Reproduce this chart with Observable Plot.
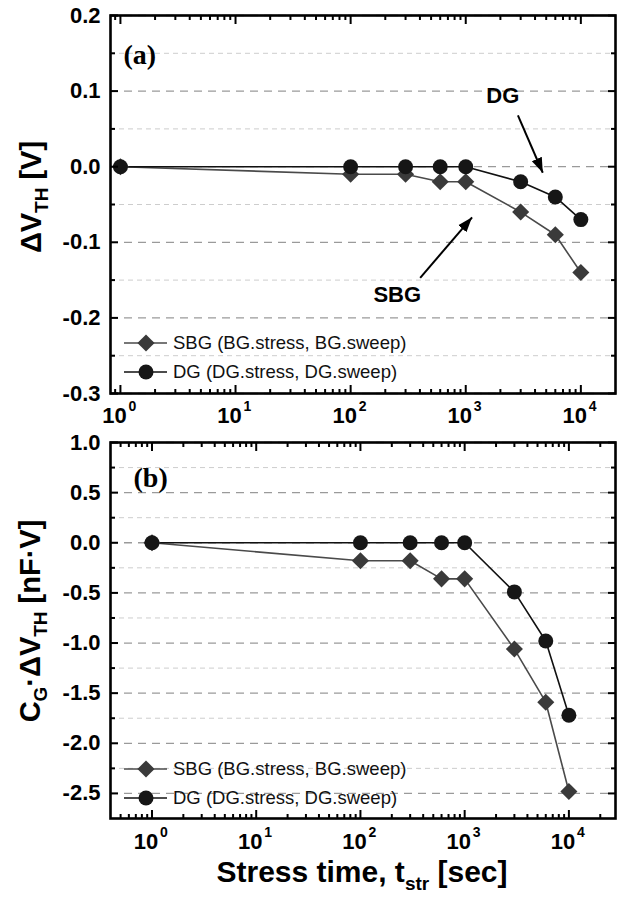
<!DOCTYPE html>
<html>
<head>
<meta charset="utf-8">
<script src="https://cdn.jsdelivr.net/npm/d3@7"></script>
<script src="https://cdn.jsdelivr.net/npm/@observablehq/plot@0.6"></script>
<style>
  html, body { margin: 0; padding: 0; background: #fff; }
  #chart { width: 631px; height: 902px; }
  #chart svg { display: block; }
</style>
</head>
<body>
<div id="chart"></div>
<script>
// ---------------- data ----------------
const times = [1, 100, 300, 600, 1000, 3000, 6000, 10000];
const dvthSBG = [0, -0.01, -0.01, -0.02, -0.02, -0.06, -0.09, -0.14];
const dvthDG  = [0, 0, 0, 0, 0, -0.02, -0.04, -0.07];
const cgSBG   = [0, -0.18, -0.18, -0.36, -0.36, -1.06, -1.59, -2.48];
const cgDG    = [0, 0, 0, 0, 0, -0.49, -0.98, -1.72];
const seriesNames = ["SBG (BG.stress, BG.sweep)", "DG (DG.stress, DG.sweep)"];
const xMajorTicks = [1, 10, 100, 1000, 10000];
const yTicksA = [0.2, 0.1, 0, -0.1, -0.2, -0.3];
const yMinorA = [0.15, 0.05, -0.05, -0.15, -0.25];
const yTicksB = [1.0, 0.5, 0, -0.5, -1.0, -1.5, -2.0, -2.5];
const yMinorB = [0.75, 0.25, -0.25, -0.75, -1.25, -1.75, -2.25];
const panelLabels = ["(a)", "(b)"];
const annoTextA = [{label: "DG", x: 2100, y: 0.094}, {label: "SBG", x: 254, y: -0.170}];
const annoArrowA = [{x1: 2840, y1: 0.068, x2: 4670, y2: -0.008}, {x1: 402, y1: -0.147, x2: 1135, y2: -0.067}];

// ---------------- helpers ----------------
const W = 631;
const FONT = "'Liberation Sans', Arial, Helvetica, sans-serif";
const SBG_LINE = "#4a4a4a", SBG_FILL = "#3a3a3a", DG_LINE = "#111", DG_FILL = "#161616";

function minorLogTicks(domain) {
  const out = [];
  for (let e = -1; e <= 5; e++) for (let m = 2; m <= 9; m++) {
    const v = m * Math.pow(10, e);
    if (v > domain[0] && v < domain[1]) out.push(v);
  }
  return out;
}
const rowsOf = vals => times.map((t, i) => ({t, v: vals[i]}));

function makePanel(cfg) {
  const sbg = rowsOf(cfg.sbg), dg = rowsOf(cfg.dg);
  const xMinor = minorLogTicks(cfg.xDomain);
  const tk = {fill: "none", stroke: "#000", strokeWidth: 2, label: null};
  const marks = [
    Plot.ruleY(cfg.yMinor, {stroke: "#cdcdcd", strokeWidth: 1, strokeDasharray: "5,4"}),
    Plot.ruleY(cfg.yMajor, {stroke: "#9a9a9a", strokeWidth: 1.3, strokeDasharray: "8,6"}),
    Plot.line(sbg, {x: "t", y: "v", stroke: SBG_LINE, strokeWidth: 1.6}),
    Plot.line(dg, {x: "t", y: "v", stroke: DG_LINE, strokeWidth: 1.6}),
    Plot.dot(sbg, {x: "t", y: "v", symbol: "diamond2", r: 7.7, fill: SBG_FILL, stroke: "none"}),
    Plot.dot(dg, {x: "t", y: "v", symbol: "circle", r: 7.5, fill: DG_FILL, stroke: "none"}),
    Plot.axisY(cfg.yMajor, {anchor: "left", tickSize: -8, ...tk}),
    Plot.axisY(cfg.yMajor, {anchor: "right", tickSize: -8, ...tk}),
    Plot.axisY(cfg.yMinor, {anchor: "left", tickSize: -5, ...tk}),
    Plot.axisY(cfg.yMinor, {anchor: "right", tickSize: -5, ...tk}),
    Plot.axisX(xMajorTicks, {anchor: "bottom", tickSize: -8, ...tk}),
    Plot.axisX(xMajorTicks, {anchor: "top", tickSize: -8, ...tk}),
    Plot.axisX(xMinor, {anchor: "bottom", tickSize: -4, ...tk}),
    Plot.axisX(xMinor, {anchor: "top", tickSize: -4, ...tk}),
    Plot.axisY(cfg.yMajor, {anchor: "left", tickSize: 0, tickPadding: 10, tickFormat: d => d.toFixed(1),
      fontSize: 22, fontWeight: "bold", fill: "#000", label: null}),
    Plot.text(xMajorTicks, {x: d => d, frameAnchor: "bottom", lineAnchor: "middle", text: () => "10",
      dy: cfg.xLabelDy, dx: -6, fontSize: 22, fontWeight: "bold", fill: "#000"}),
    Plot.text(xMajorTicks, {x: d => d, frameAnchor: "bottom", lineAnchor: "middle", text: d => String(Math.round(Math.log10(d))),
      dy: cfg.xLabelDy - 9, dx: 8, textAnchor: "start", fontSize: 14, fontWeight: "bold", fill: "#000"}),
    Plot.text([cfg.panelLabel], {frameAnchor: "top-left", lineAnchor: "middle", text: d => d, dx: cfg.panelDx, dy: cfg.panelDy,
      textAnchor: "start", fontSize: 28, fontWeight: "bold", fontFamily: "'Liberation Serif', 'Times New Roman', serif", fill: "#000"}),
    ...(cfg.extra || []),
    Plot.frame({stroke: "#000", strokeWidth: 2.6})
  ];
  return Plot.plot({
    width: W, height: cfg.height,
    marginLeft: 110, marginRight: 16, marginTop: cfg.marginTop, marginBottom: cfg.marginBottom,
    style: {fontFamily: FONT, background: "#fff", overflow: "visible"},
    x: {type: "log", domain: cfg.xDomain, axis: null},
    y: {domain: cfg.yDomain, axis: null},
    marks
  });
}

function addYTitle(svg, x, y, parts) {
  const t = d3.select(svg).append("text")
    .attr("transform", `translate(${x},${y}) rotate(-90)`)
    .attr("text-anchor", "middle").attr("font-family", FONT)
    .attr("font-size", 29).attr("font-weight", "bold").attr("fill", "#000");
  let shifted = false;
  parts.forEach(p => {
    const s = t.append("tspan").text(p[0]);
    if (p[1]) { s.attr("font-size", 19).attr("dy", shifted ? 0 : 7); shifted = true; }
    else if (shifted) { s.attr("dy", -7); shifted = false; }
  });
}

function addLegend(svg, x0, ys) {
  const g = d3.select(svg).append("g");
  const symbols = [d3.symbolDiamond2, d3.symbolCircle];
  const sizes = [Math.PI * 7.7 * 7.7, Math.PI * 7.5 * 7.5];
  const lineC = [SBG_LINE, DG_LINE], fillC = [SBG_FILL, DG_FILL];
  seriesNames.forEach((name, i) => {
    g.append("line").attr("x1", x0 - 22).attr("x2", x0 + 21).attr("y1", ys[i]).attr("y2", ys[i])
      .attr("stroke", lineC[i]).attr("stroke-width", 1.6);
    g.append("path").attr("d", d3.symbol(symbols[i], sizes[i])())
      .attr("transform", `translate(${x0},${ys[i]})`).attr("fill", fillC[i]);
    g.append("text").attr("x", x0 + 27).attr("y", ys[i]).attr("dy", "0.35em")
      .attr("text-anchor", "start")
      .attr("font-family", FONT).attr("font-size", 18.5).attr("fill", "#111").text(name);
  });
}

function addArrowHeads(svg, id) {
  const s = d3.select(svg);
  s.append("defs").append("marker").attr("id", id)
    .attr("viewBox", "0 -5 10 10").attr("refX", 10).attr("refY", 0)
    .attr("markerUnits", "userSpaceOnUse").attr("markerWidth", 15).attr("markerHeight", 15)
    .attr("orient", "auto")
    .append("path").attr("d", "M0,-3.6L10,0L0,3.6Z").attr("fill", "#000");
  s.selectAll('g[aria-label="link"] path, g[aria-label="link"] line').attr("marker-end", `url(#${id})`);
}

// ---------------- panel (a) ----------------
const svgA = makePanel({
  height: 430, marginTop: 15, marginBottom: 37,
  xDomain: [0.82, 20000], yDomain: [-0.3, 0.2],
  yMajor: yTicksA, yMinor: yMinorA, sbg: dvthSBG, dg: dvthDG,
  xLabelDy: 22, panelLabel: panelLabels[0], panelDx: 13, panelDy: 40,
  extra: [
    Plot.link(annoArrowA, {x1: "x1", y1: "y1", x2: "x2", y2: "y2", stroke: "#000", strokeWidth: 2}),
    Plot.text(annoTextA, {x: "x", y: "y", text: "label", fontSize: 22, fontWeight: "bold", fill: "#000"})
  ]
});
addArrowHeads(svgA, "ahA");
addYTitle(svgA, 41, 197, [["ΔV"], ["TH", true], [" [V]"]]);
addLegend(svgA, 146, [343, 372]);

// ---------------- panel (b) ----------------
const svgB = makePanel({
  height: 472, marginTop: 12, marginBottom: 84,
  xDomain: [0.4, 28000], yDomain: [-2.75, 1.0],
  yMajor: yTicksB, yMinor: yMinorB, sbg: cgSBG, dg: cgDG,
  xLabelDy: 23, panelLabel: panelLabels[1], panelDx: 23, panelDy: 36
});
addYTitle(svgB, 40, 191, [["C"], ["G", true], ["·ΔV"], ["TH", true], [" [nF·V]"]]);
addLegend(svgB, 146, [339, 368]);
{
  const t = d3.select(svgB).append("text")
    .attr("x", 362).attr("y", 452).attr("text-anchor", "middle")
    .attr("font-family", FONT).attr("font-size", 30).attr("font-weight", "bold").attr("fill", "#000");
  t.append("tspan").text("Stress time, t");
  t.append("tspan").text("str").attr("font-size", 19).attr("dy", 8);
  t.append("tspan").text(" [sec]").attr("dy", -8);
}

const chart = document.getElementById("chart");
chart.appendChild(svgA);
chart.appendChild(svgB);
</script>
</body>
</html>
